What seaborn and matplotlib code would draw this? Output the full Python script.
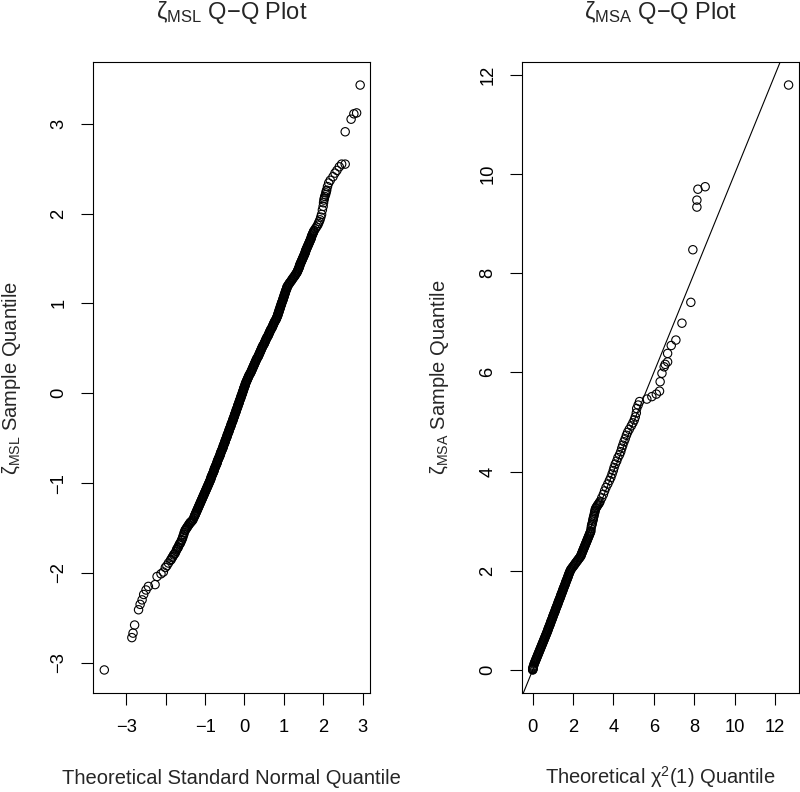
import pandas as pd
import matplotlib
matplotlib.use("Agg")
import matplotlib.pyplot as plt
import seaborn as sns

# zeta_MSL: theoretical normal quantile vs sample quantile
msl_theory = [
    # lower tail
    -3.56, -2.86, -2.83, -2.79, -2.69, -2.65, -2.60, -2.56, -2.50, -2.44,
    -2.27, -2.22, -2.12, -2.06, -2.01, -1.97, -1.93, -1.88, -1.84, -1.80,
    -1.76, -1.72, -1.69, -1.66, -1.63, -1.60, -1.57, -1.54, -1.51, -1.48,
    -1.45, -1.42, -1.39, -1.37, -1.35, -1.33, -1.31, -1.29, -1.27,
    -1.86, -1.82, -1.78, -1.74, -1.71, -1.68, -1.65, -1.62, -1.59, -1.56,
    -1.53, -1.50, -1.47, -1.44, -1.41, -1.38,
    # dense band
    -1.26, -1.25, -1.24, -1.23, -1.22, -1.21, -1.20, -1.19, -1.18, -1.17,
    -1.16, -1.15, -1.14, -1.13, -1.12, -1.11, -1.10, -1.09, -1.08, -1.07,
    -1.06, -1.05, -1.04, -1.03, -1.02, -1.01, -1.00, -0.99, -0.98, -0.97,
    -0.96, -0.95, -0.94, -0.93, -0.92, -0.91,
    -0.90, -0.89, -0.88, -0.87, -0.86, -0.85, -0.85, -0.84, -0.83, -0.82,
    -0.81, -0.80, -0.79, -0.78, -0.77, -0.77, -0.76, -0.75, -0.74, -0.73,
    -0.72, -0.71, -0.70, -0.69, -0.69, -0.68, -0.67, -0.66, -0.65, -0.64,
    -0.63, -0.62, -0.61, -0.61, -0.60, -0.59, -0.58, -0.57,
    -0.56, -0.55, -0.54, -0.54, -0.53, -0.52, -0.51, -0.50, -0.49, -0.49,
    -0.48, -0.47, -0.46, -0.45, -0.44, -0.44, -0.43, -0.42, -0.41, -0.40,
    -0.39, -0.39, -0.38, -0.37, -0.36, -0.35, -0.34, -0.34, -0.33, -0.32,
    -0.31, -0.30, -0.29, -0.29, -0.28, -0.27,
    -0.26, -0.25, -0.25, -0.24, -0.23, -0.22, -0.21, -0.21, -0.20, -0.19,
    -0.18, -0.17, -0.17, -0.16, -0.15, -0.14, -0.13, -0.13, -0.12, -0.11,
    -0.10, -0.09, -0.09, -0.08, -0.07, -0.06, -0.05, -0.05, -0.04, -0.03,
    -0.02, -0.02, -0.01, 0.00, 0.01, 0.02, 0.02, 0.03, 0.04,
    0.05, 0.06, 0.07, 0.08, 0.09, 0.10, 0.11, 0.12, 0.13, 0.15,
    0.16, 0.17, 0.18, 0.19, 0.20, 0.21, 0.22, 0.23, 0.24, 0.25,
    0.26, 0.27, 0.28, 0.29, 0.30, 0.31, 0.32, 0.34, 0.35, 0.36,
    0.37, 0.38, 0.39, 0.40, 0.41, 0.42,
    0.43, 0.44, 0.45, 0.46, 0.47, 0.49, 0.50, 0.51, 0.52, 0.53,
    0.54, 0.55, 0.56, 0.57, 0.59, 0.60, 0.61, 0.62, 0.63, 0.64,
    0.65, 0.66, 0.67, 0.69, 0.70, 0.71, 0.72, 0.73, 0.74, 0.75,
    0.76, 0.77, 0.79, 0.80, 0.81, 0.82, 0.83,
    0.84, 0.85, 0.85, 0.86, 0.87, 0.88, 0.88, 0.89, 0.90, 0.91,
    0.91, 0.92, 0.93, 0.94, 0.94, 0.95, 0.96, 0.97, 0.98, 0.98,
    0.99, 1.00, 1.01, 1.01, 1.02, 1.03, 1.04, 1.04, 1.05, 1.06,
    1.07, 1.08, 1.08, 1.09,
    1.11, 1.12, 1.14, 1.15, 1.17, 1.19, 1.20, 1.22, 1.23, 1.25,
    1.27, 1.28, 1.30, 1.31, 1.33,
    1.34, 1.35, 1.36, 1.37, 1.38, 1.39, 1.40, 1.40, 1.41, 1.42,
    1.43, 1.44, 1.45, 1.46, 1.47, 1.48, 1.49, 1.50, 1.51, 1.52,
    1.53, 1.54, 1.55, 1.55, 1.56, 1.57, 1.58, 1.59, 1.60, 1.61,
    1.62, 1.63, 1.64, 1.65, 1.66, 1.67, 1.68, 1.69, 1.70, 1.70,
    1.71, 1.72, 1.73, 1.74, 1.75, 1.76, 1.77,
    # upper tail
    1.80, 1.83, 1.86, 1.88, 1.90, 1.92, 1.94, 1.96, 1.98, 2.00,
    2.01, 2.02, 2.03, 2.04, 2.06, 2.07, 2.08, 2.09, 2.11, 2.14,
    2.18, 2.25, 2.30, 2.35, 2.41, 2.47, 2.56, 2.56, 2.71, 2.78,
    2.85, 2.94,
]
msl_sample = [
    -3.08, -2.72, -2.67, -2.58, -2.41, -2.35, -2.30, -2.24, -2.19, -2.15,
    -2.13, -2.04, -2.01, -1.99, -1.94, -1.92, -1.89, -1.86, -1.83, -1.80,
    -1.78, -1.74, -1.72, -1.69, -1.67, -1.64, -1.61, -1.57, -1.53, -1.51,
    -1.49, -1.47, -1.45, -1.44, -1.43, -1.42, -1.41, -1.39, -1.37,
    -1.85, -1.82, -1.79, -1.76, -1.73, -1.71, -1.68, -1.66, -1.63, -1.59,
    -1.55, -1.52, -1.50, -1.48, -1.46, -1.44,
    -1.36, -1.35, -1.34, -1.33, -1.32, -1.31, -1.30, -1.29, -1.28, -1.27,
    -1.26, -1.25, -1.24, -1.23, -1.22, -1.21, -1.20, -1.19, -1.18, -1.17,
    -1.16, -1.15, -1.14, -1.13, -1.12, -1.11, -1.10, -1.09, -1.08, -1.07,
    -1.06, -1.05, -1.04, -1.03, -1.02, -1.01,
    -1.00, -0.99, -0.98, -0.97, -0.96, -0.95, -0.94, -0.93, -0.92, -0.91,
    -0.90, -0.89, -0.88, -0.87, -0.86, -0.85, -0.84, -0.83, -0.82, -0.81,
    -0.80, -0.79, -0.78, -0.77, -0.76, -0.75, -0.74, -0.73, -0.72, -0.71,
    -0.70, -0.69, -0.68, -0.67, -0.66, -0.65, -0.64, -0.63,
    -0.62, -0.61, -0.60, -0.59, -0.58, -0.57, -0.56, -0.55, -0.54, -0.53,
    -0.52, -0.51, -0.50, -0.49, -0.48, -0.47, -0.46, -0.45, -0.44, -0.43,
    -0.42, -0.41, -0.40, -0.39, -0.38, -0.37, -0.36, -0.35, -0.34, -0.33,
    -0.32, -0.31, -0.30, -0.29, -0.28, -0.27,
    -0.26, -0.25, -0.24, -0.23, -0.22, -0.21, -0.20, -0.19, -0.18, -0.17,
    -0.16, -0.15, -0.14, -0.13, -0.12, -0.11, -0.10, -0.09, -0.08, -0.07,
    -0.06, -0.05, -0.04, -0.03, -0.02, -0.01, 0.00, 0.01, 0.02, 0.03,
    0.04, 0.05, 0.06, 0.07, 0.08, 0.09, 0.10, 0.11, 0.12,
    0.13, 0.14, 0.15, 0.16, 0.17, 0.18, 0.19, 0.20, 0.21, 0.22,
    0.23, 0.24, 0.25, 0.26, 0.27, 0.28, 0.29, 0.30, 0.31, 0.32,
    0.33, 0.34, 0.35, 0.36, 0.37, 0.38, 0.39, 0.40, 0.41, 0.42,
    0.43, 0.44, 0.45, 0.46, 0.47, 0.48,
    0.49, 0.50, 0.51, 0.52, 0.53, 0.54, 0.55, 0.56, 0.57, 0.58,
    0.59, 0.60, 0.61, 0.62, 0.63, 0.64, 0.65, 0.66, 0.67, 0.68,
    0.69, 0.70, 0.71, 0.72, 0.73, 0.74, 0.75, 0.76, 0.77, 0.78,
    0.79, 0.80, 0.81, 0.82, 0.83, 0.84, 0.85,
    0.86, 0.87, 0.88, 0.89, 0.90, 0.91, 0.92, 0.93, 0.94, 0.95,
    0.96, 0.97, 0.98, 0.99, 1.00, 1.01, 1.02, 1.03, 1.04, 1.05,
    1.06, 1.07, 1.08, 1.09, 1.10, 1.11, 1.12, 1.13, 1.14, 1.15,
    1.16, 1.17, 1.18, 1.19,
    1.20, 1.21, 1.22, 1.23, 1.24, 1.25, 1.26, 1.27, 1.28, 1.29,
    1.30, 1.31, 1.32, 1.33, 1.34,
    1.35, 1.36, 1.37, 1.38, 1.39, 1.40, 1.41, 1.42, 1.43, 1.44,
    1.45, 1.46, 1.47, 1.48, 1.49, 1.50, 1.51, 1.52, 1.53, 1.54,
    1.55, 1.56, 1.57, 1.58, 1.59, 1.60, 1.61, 1.62, 1.63, 1.64,
    1.65, 1.66, 1.67, 1.68, 1.69, 1.70, 1.71, 1.72, 1.73, 1.74,
    1.75, 1.76, 1.77, 1.78, 1.79, 1.80, 1.81,
    1.83, 1.85, 1.87, 1.89, 1.91, 1.93, 1.96, 1.99, 2.04, 2.08,
    2.12, 2.15, 2.17, 2.19, 2.21, 2.23, 2.25, 2.26, 2.30, 2.34,
    2.37, 2.41, 2.45, 2.48, 2.52, 2.55, 2.55, 2.91, 3.05, 3.11,
    3.12, 3.43,
]

# zeta_MSA: theoretical chi-square(1) quantile vs sample quantile
msa_theory = [
    0.00, 0.00, 0.01, 0.01, 0.02, 0.03, 0.05, 0.07,
    0.09, 0.11, 0.13, 0.15, 0.17, 0.19, 0.21, 0.23, 0.25, 0.27,
    0.29, 0.31, 0.33, 0.35, 0.37, 0.39, 0.41, 0.43, 0.45, 0.47,
    0.49, 0.51, 0.53, 0.55, 0.57, 0.59, 0.61, 0.63, 0.65, 0.67, 0.69,
    0.71, 0.73, 0.75, 0.76, 0.78, 0.80, 0.82, 0.84, 0.86, 0.88,
    0.89, 0.91, 0.93, 0.95, 0.97, 0.99, 1.00, 1.02, 1.04, 1.06,
    1.08, 1.10, 1.12, 1.13, 1.15, 1.17, 1.19, 1.21, 1.23, 1.25,
    1.26, 1.28, 1.30, 1.32, 1.34, 1.36, 1.38, 1.39, 1.41, 1.43,
    1.45, 1.47, 1.49, 1.50, 1.52, 1.54, 1.56, 1.58, 1.60, 1.62,
    1.63, 1.65, 1.67, 1.69, 1.71, 1.73, 1.75, 1.76, 1.78, 1.80,
    1.82, 1.84, 1.86, 1.88,
    1.92, 1.95, 1.99, 2.03, 2.06, 2.10, 2.13, 2.17, 2.21, 2.24,
    2.28, 2.32, 2.35, 2.39,
    2.40, 2.42, 2.44, 2.46, 2.48, 2.50, 2.52, 2.54, 2.56, 2.58,
    2.60, 2.62, 2.64, 2.66, 2.68, 2.70, 2.72, 2.74, 2.76, 2.78,
    2.80, 2.82, 2.84, 2.86, 2.88,
    2.89, 2.93, 2.97, 3.00, 3.04, 3.08, 3.11, 3.17, 3.23, 3.30,
    2.91, 2.95, 2.99, 3.02, 3.06, 3.09, 3.14, 3.20, 3.27, 3.34,
    3.42, 3.50, 3.56, 3.63, 3.72, 3.80, 3.87, 3.93, 3.99, 4.03,
    4.09, 4.16, 4.22, 4.30, 4.36, 4.41, 4.46, 4.52, 4.58, 4.64,
    4.70, 4.78, 4.88, 4.96, 5.03, 5.08, 5.13, 5.15, 5.22, 5.29,
    5.65, 5.90, 6.12, 6.28, 6.31, 6.40, 6.51, 6.56, 6.68, 6.68,
    6.86, 7.09, 7.39, 7.83, 7.93, 8.13, 8.13, 8.18, 8.54, 12.67,
]
msa_sample = [
    0.00, 0.01, 0.02, 0.03, 0.05, 0.07, 0.09, 0.12,
    0.14, 0.16, 0.18, 0.20, 0.22, 0.24, 0.26, 0.28, 0.30, 0.32,
    0.34, 0.36, 0.38, 0.40, 0.42, 0.44, 0.46, 0.48, 0.50, 0.52,
    0.54, 0.56, 0.58, 0.60, 0.62, 0.64, 0.66, 0.68, 0.70, 0.72, 0.74,
    0.76, 0.78, 0.80, 0.82, 0.84, 0.86, 0.88, 0.90, 0.92, 0.94,
    0.96, 0.98, 1.00, 1.02, 1.04, 1.06, 1.08, 1.10, 1.12, 1.14,
    1.16, 1.18, 1.20, 1.22, 1.24, 1.26, 1.28, 1.30, 1.32, 1.34,
    1.36, 1.38, 1.40, 1.42, 1.44, 1.46, 1.48, 1.50, 1.52, 1.54,
    1.56, 1.58, 1.60, 1.62, 1.64, 1.66, 1.68, 1.70, 1.72, 1.74,
    1.76, 1.78, 1.80, 1.82, 1.84, 1.86, 1.88, 1.90, 1.92, 1.94,
    1.96, 1.98, 2.00, 2.02,
    2.04, 2.06, 2.08, 2.10, 2.12, 2.14, 2.16, 2.18, 2.20, 2.22,
    2.24, 2.26, 2.28, 2.30,
    2.32, 2.34, 2.36, 2.38, 2.40, 2.42, 2.44, 2.46, 2.48, 2.50,
    2.52, 2.54, 2.56, 2.58, 2.60, 2.62, 2.64, 2.66, 2.68, 2.70,
    2.72, 2.74, 2.76, 2.78, 2.80,
    2.85, 2.93, 3.00, 3.06, 3.12, 3.19, 3.25, 3.29, 3.33, 3.37,
    2.90, 2.96, 3.03, 3.09, 3.16, 3.22, 3.27, 3.31, 3.35, 3.40,
    3.47, 3.54, 3.61, 3.68, 3.75, 3.82, 3.88, 3.95, 4.02, 4.08,
    4.15, 4.21, 4.28, 4.34, 4.40, 4.47, 4.53, 4.60, 4.66, 4.73,
    4.79, 4.85, 4.92, 4.98, 5.04, 5.10, 5.18, 5.27, 5.34, 5.41,
    5.46, 5.51, 5.56, 5.62, 5.81, 5.98, 6.11, 6.16, 6.21, 6.38,
    6.54, 6.65, 6.99, 7.41, 8.47, 9.33, 9.47, 9.69, 9.74, 11.79,
]

msl_xticks = [-3, -2, -1, 0, 1, 2, 3]
msl_xticklabels = ["\u22123", "", "\u22121", "0", "1", "2", "3"]
msl_yticks = [-3, -2, -1, 0, 1, 2, 3]
msa_ticks = [0, 2, 4, 6, 8, 10, 12]

sns.set_style("ticks")
plt.rcParams["font.family"] = ["Liberation Sans", "DejaVu Sans"]
plt.rcParams["mathtext.fontset"] = "custom"
plt.rcParams["mathtext.rm"] = "Liberation Sans"
plt.rcParams["mathtext.it"] = "Liberation Sans:italic"
plt.rcParams["axes.edgecolor"] = "black"
plt.rcParams["axes.linewidth"] = 0.8

fig = plt.figure(figsize=(8, 7.92), dpi=100)
ax1 = fig.add_axes([0.1166, 0.1246, 0.3459, 0.7975])
ax2 = fig.add_axes([0.6525, 0.1246, 0.3466, 0.7975])

msl = pd.DataFrame({"theory": msl_theory, "sample": msl_sample})
msa = pd.DataFrame({"theory": msa_theory, "sample": msa_sample})

pt = dict(marker="o", s=36, facecolor="none", edgecolor="black", linewidth=0.8)
sns.scatterplot(data=msl, x="theory", y="sample", ax=ax1, **pt)
sns.scatterplot(data=msa, x="theory", y="sample", ax=ax2, **pt)
ax2.axline((0, 0), slope=1, color="black", linewidth=0.8)

ax1.set_xlim(-3.84, 3.19)
ax1.set_ylim(-3.34, 3.69)
ax1.set_xticks(msl_xticks)
ax1.set_xticklabels(msl_xticklabels)
ax1.set_yticks(msl_yticks)

ax2.set_xlim(-0.53, 13.2)
ax2.set_ylim(-0.47, 12.26)
ax2.set_xticks(msa_ticks)
ax2.set_yticks(msa_ticks)

titles = ["\u03b6$_{\\mathrm{MSL}}$ Q\u2212Q Plot", "\u03b6$_{\\mathrm{MSA}}$ Q\u2212Q Plot"]
xlabels = ["Theoretical Standard Normal Quantile", "Theoretical \u03c7$^{2}$(1) Quantile"]
ylabels = ["\u03b6$_{\\mathrm{MSL}}$ Sample Quantile", "\u03b6$_{\\mathrm{MSA}}$ Sample Quantile"]

for ax, t, xl, yl in zip([ax1, ax2], titles, xlabels, ylabels):
    for sp in ax.spines.values():
        sp.set_visible(True)
        sp.set_linewidth(0.8)
    ax.tick_params(direction="out", length=8.6, width=0.8, labelsize=13.2, pad=10, colors="black")
    ax.tick_params(axis="y", labelrotation=90)
    for lab in ax.get_yticklabels():
        lab.set_va("center")
    ax.set_title(t, fontsize=17, pad=31)
    ax.set_xlabel(xl, fontsize=14.5)
    ax.set_ylabel(yl, fontsize=14.5)
    ax.xaxis.label.set_va("baseline")
    ax.xaxis.set_label_coords(0.5, -0.143)
    ax.yaxis.set_label_coords(-0.255, 0.5)

fig.savefig("out.png", dpi=100)
